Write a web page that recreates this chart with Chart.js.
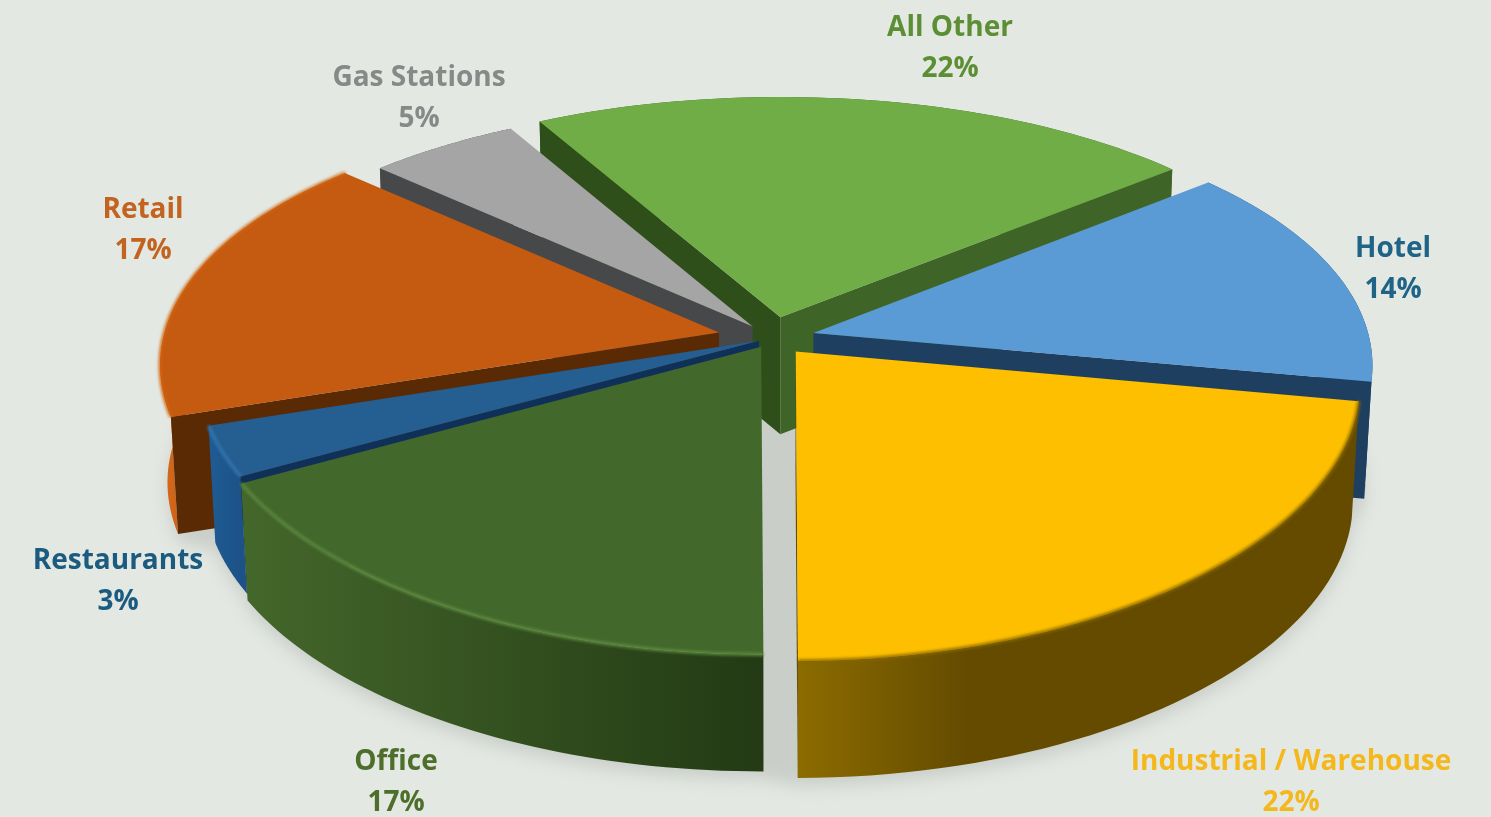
<!DOCTYPE html>
<html>
<head>
<meta charset="utf-8">
<title>Pie</title>
<script src="https://cdn.jsdelivr.net/npm/chart.js@4"></script>
<style>
  html, body { margin: 0; padding: 0; background: #e3e8e2; overflow: hidden; }
  canvas { display: block; }
</style>
</head>
<body>
<canvas id="myChart" width="1491" height="817"></canvas>
<script>
const ctx = document.getElementById('myChart');

// clockwise from the top
const categories = ["All Other", "Hotel", "Industrial / Warehouse", "Office", "Restaurants", "Retail", "Gas Stations"];
const shares = [22, 14, 22, 17, 3, 17, 5];

const topColors = ["#70ad47", "#5b9bd5", "#fdbf00", "#43682b", "#255e91", "#c55a11", "#a5a5a5"];
const rimColors = ["#70ad47", "#5b9bd5", "#8a6800", "#5f8c42", "#3478b4", "#d0640f", "#a5a5a5"];
const textColors = ["#5c8f33", "#1f6387", "#f4b81c", "#4e6e2c", "#1c5b80", "#c2631f", "#858a88"];
// outer wall, left to right
const wallLeft = ["#3f6427", "#1f4468", "#8c6c00", "#44672b", "#1f5c94", "#d9691a", "#56575a"];
const wallRight = ["#3f6427", "#1f4468", "#644b00", "#233a14", "#1c5287", "#5a2a05", "#47484a"];
// cut faces: the edge at startAngle, the edge at endAngle
const cutStart = ["#2f4f1a", "#1f3f60", "#634a00", "#1a3a18", "#0f3058", "#5a2a05", "#47484a"];
const cutEnd = ["#3f6427", "#1f3f60", "#634a00", "#1d3f4f", "#0f3058", "#5a2a05", "#47484a"];
// draw order, back to front
const drawOrder = [0, 6, 1, 5, 4, 3, 2];
// explode distance of each slice
const explode = [32, 30, 26, 15, 10, 38, 22];
const labelSpots = [[950, 28], [1393, 249], [1291, 762], [396, 762], [118, 561], [143, 210], [419, 78]];

// view of the tilted plate
const view = { x0: 772, y0: 338, sx: 556, sy: 259, perspX: 8, perspY: 6.7, depth: 117, taper: 0.012 };

function project(arc, angle, radius, z) {
  const mid = (arc.startAngle + arc.endAngle) / 2;
  const off = (arc.options.offset || 0) / arc.outerRadius;
  const ou = Math.cos(mid) * off;
  const u = Math.cos(angle) * radius;
  const v = Math.sin(mid) * off + Math.sin(angle) * radius;
  const sx = view.perspX / (view.perspX - v);
  const sy = view.perspY / (view.perspY - v);
  // the walls lean inward a little toward the floor
  const lean = 1 - view.taper * z / view.depth;
  return [view.x0 + (ou + u * sx) * view.sx * lean, view.y0 + v * view.sy * sy + z];
}

function rimPoints(arc, z) {
  const pts = [];
  const steps = 48;
  for (let i = 0; i <= steps; i++) {
    const a = arc.startAngle + (arc.endAngle - arc.startAngle) * i / steps;
    pts.push(project(arc, a, 1, z));
  }
  return pts;
}

function fillPoly(c, pts, color) {
  c.beginPath();
  pts.forEach((p, i) => i ? c.lineTo(p[0], p[1]) : c.moveTo(p[0], p[1]));
  c.closePath();
  c.fillStyle = color;
  c.fill();
}

const plate3d = {
  id: 'plate3d',
  beforeDatasetDraw(chart) {
    const c = chart.ctx;
    const arcs = chart.getDatasetMeta(0).data;

    // soft shadow on the floor
    c.save();
    c.filter = 'blur(8px)';
    let floor = [];
    arcs.forEach(arc => { floor = floor.concat(rimPoints(arc, view.depth + 8)); });
    fillPoly(c, floor, '#c9cec9');
    c.restore();

    drawOrder.forEach(i => {
      const arc = arcs[i];
      const rim = rimPoints(arc, 0);
      const low = rimPoints(arc, view.depth);
      const apex = project(arc, 0, 0, 0);
      const apexLow = project(arc, 0, 0, view.depth);

      // outer wall
      const xs = rim.map(p => p[0]);
      const grad = c.createLinearGradient(Math.min(...xs), 0, Math.max(...xs), 0);
      grad.addColorStop(0, wallLeft[i]);
      grad.addColorStop(i == 2 ? 0.3 : 1, wallRight[i]);
      grad.addColorStop(1, wallRight[i]);
      fillPoly(c, rim.concat(low.slice().reverse()), grad);

      // cut faces, only the ones turned toward the viewer
      if (Math.cos(arc.startAngle) < 0) {
        fillPoly(c, [apex, rim[0], low[0], apexLow], cutStart[i]);
      }
      if (Math.cos(arc.endAngle) > 0) {
        fillPoly(c, [apex, rim[rim.length - 1], low[low.length - 1], apexLow], cutEnd[i]);
      }

      // top face
      fillPoly(c, [apex].concat(rim), topColors[i]);

      // bevel along the rim
      if (rimColors[i] != topColors[i]) {
        c.save();
        c.filter = 'blur(1.5px)';
        c.strokeStyle = rimColors[i];
        c.lineWidth = 3;
        c.beginPath();
        rim.forEach((p, k) => k ? c.lineTo(p[0], p[1]) : c.moveTo(p[0], p[1]));
        c.stroke();
        c.restore();
      }
    });

    // text labels
    c.save();
    c.textAlign = 'center';
    c.textBaseline = 'middle';
    c.font = '700 28px "Open Sans"';
    categories.forEach((name, i) => {
      c.fillStyle = textColors[i];
      c.fillText(name, labelSpots[i][0], labelSpots[i][1]);
      c.fillText(shares[i] + '%', labelSpots[i][0], labelSpots[i][1] + 41);
    });
    c.restore();
    return false;
  }
};

new Chart(ctx, {
  type: 'pie',
  data: {
    labels: categories,
    datasets: [{
      data: shares,
      backgroundColor: topColors,
      offset: explode,
      borderWidth: 0,
      clip: false
    }]
  },
  options: {
    responsive: false,
    animation: false,
    rotation: -29,
    layout: { padding: 0 },
    events: [],
    plugins: { legend: { display: false }, tooltip: { enabled: false } }
  },
  plugins: [plate3d]
});
</script>
</body>
</html>
